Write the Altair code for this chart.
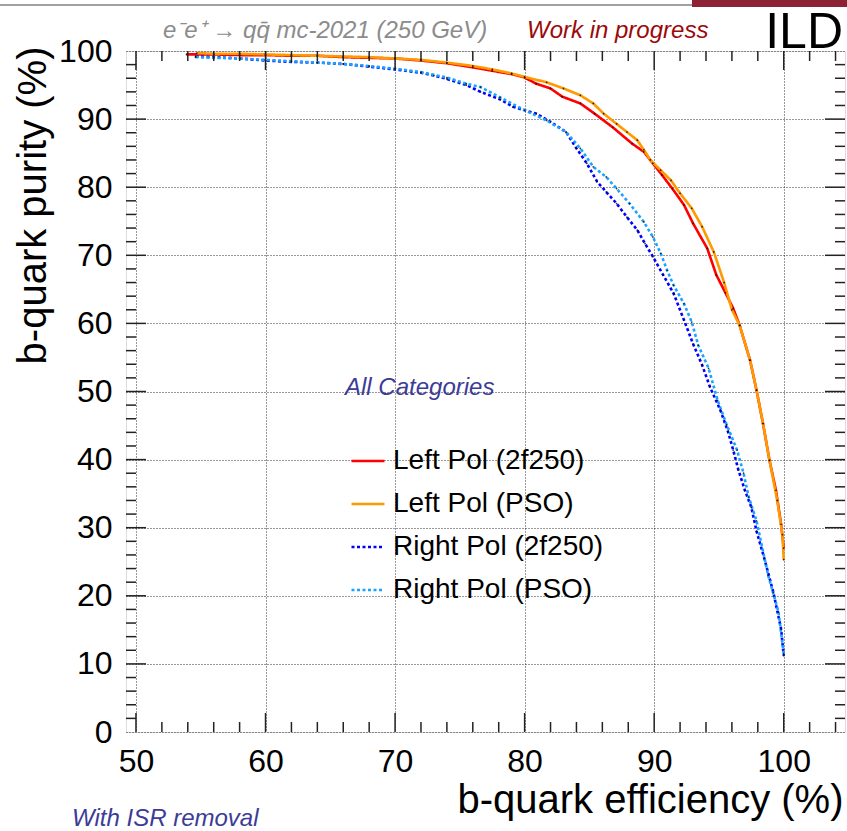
import altair as alt
import pandas as pd

# ---------------- data ----------------
series_names = ["Left Pol (2f250)", "Left Pol (PSO)", "Right Pol (2f250)", "Right Pol (PSO)"]
series_colors = ["#ff0000", "#ff9900", "#0000ff", "#1aa3ff"]
series_dashes = [[1, 0], [1, 0], [3, 2.5], [3, 2.5]]

left_2f_x = [53.9, 56, 58, 60, 62, 64, 66, 68, 70, 72, 74, 76, 77.5, 79, 80, 80.9, 82.0, 82.9, 84.3,
             85.4, 86.8, 88.3, 89.2, 89.9, 90.6, 91.4, 92.3, 93.0, 94.1, 94.8, 95.5, 96.1, 96.6, 97.4,
             97.9, 98.4, 98.9, 99.4, 99.8, 100.0]
left_2f_y = [99.5, 99.5, 99.4, 99.4, 99.3, 99.3, 99.1, 99.0, 98.9, 98.6, 98.2, 97.6, 97.1, 96.6, 96.1,
             95.2, 94.5, 93.3, 92.3, 90.8, 88.8, 86.4, 85.2, 83.5, 81.8, 79.8, 77.4, 74.7, 71.0, 67.1,
             64.5, 62.2, 59.7, 54.6, 50.2, 45.3, 39.9, 35.5, 30.5, 27.0]

left_pso_x = [54.7, 56, 58, 60, 62, 64, 66, 68, 70, 72, 74, 76, 77.5, 79, 80, 81.7, 83.0, 84.3, 85.3,
              86.1, 87.1, 87.9, 88.7, 89.2, 89.7, 90.5, 91.3, 92.0, 92.9, 93.7, 94.6, 95.4, 96.0,
              96.6, 97.4, 97.9, 98.4, 98.9, 99.5, 99.9, 100.0]
left_pso_y = [99.7, 99.6, 99.6, 99.5, 99.4, 99.3, 99.2, 99.1, 98.9, 98.7, 98.3, 97.8, 97.3, 96.7, 96.2,
              95.4, 94.5, 93.5, 92.3, 90.8, 89.3, 88.1, 86.9, 85.5, 84.0, 82.5, 81.0, 79.1, 76.9, 74.2,
              70.5, 66.0, 62.0, 59.7, 54.6, 50.2, 45.3, 39.9, 34.0, 29.0, 25.3]

right_2f_x = [54.6, 56, 58, 60, 62, 64, 66, 68, 70, 72, 73, 74, 75.5, 76.6, 78.1, 79.1, 80.9, 82.0,
              83.2, 84.0, 84.8, 85.6, 86.3, 87.1, 87.9, 88.7, 89.3, 89.9, 90.7, 91.5, 92.3, 93.0,
              93.7, 94.3, 95.1, 95.7, 96.1, 96.5, 97.0, 97.5, 97.9, 98.5, 99.2, 99.8, 100.0]
right_2f_y = [99.2, 99.1, 98.9, 98.6, 98.4, 98.3, 98.1, 97.7, 97.3, 96.8, 96.4, 95.9, 95.0, 94.0, 92.9,
              91.8, 90.8, 89.6, 88.1, 85.7, 83.5, 80.8, 79.3, 77.6, 75.6, 73.7, 71.7, 69.8, 67.1, 64.4,
              60.5, 57.0, 53.9, 50.7, 47.3, 44.1, 41.4, 38.5, 35.5, 33.0, 29.5, 25.5, 20.5, 15.1, 11.2]

right_pso_x = [54.6, 56, 58, 60, 62, 64, 66, 68, 70, 72, 74, 75.5, 76.6, 78.1, 80.0, 81.7, 83.2, 84.3,
               85.3, 86.3, 87.1, 88.1, 89.2, 89.9, 90.5, 91.0, 91.5, 92.3, 92.9, 93.4, 94.2, 94.9,
               95.6, 96.4, 96.9, 97.3, 97.9, 98.8, 99.6, 100.0]
right_pso_y = [99.1, 99.0, 98.9, 98.7, 98.5, 98.3, 98.1, 97.8, 97.4, 96.9, 96.1, 95.2, 94.7, 93.2, 91.3,
               89.8, 88.1, 85.7, 83.0, 81.5, 79.8, 77.6, 74.9, 72.7, 70.3, 67.8, 65.6, 62.9, 60.2, 56.8,
               53.4, 48.7, 45.1, 41.4, 38.0, 34.5, 31.0, 23.0, 17.6, 11.5]

x_major = [50, 60, 70, 80, 90, 100]
x_minor = [52, 54, 56, 58, 62, 64, 66, 68, 72, 74, 76, 78, 82, 84, 86, 88, 92, 94, 96, 98, 102, 104]
y_major = [0, 10, 20, 30, 40, 50, 60, 70, 80, 90, 100]
y_minor = [v for v in range(2, 100, 2) if v % 10 != 0]

x_title = "b-quark efficiency (%)"
y_title = "b-quark purity (%)"
header_text = ["e\u207be\u207a \u2192 qq\u0304 mc-2021 (250 GeV)"]
wip_text = ["Work in progress"]
ild_text = ["ILD"]
cat_text = ["All Categories"]
isr_text = ["With ISR removal"]

FONT = "Liberation Sans"
W, H = 719, 681

rows = []
for name, xs, ys in [(series_names[0], left_2f_x, left_2f_y),
                     (series_names[1], left_pso_x, left_pso_y),
                     (series_names[2], right_2f_x, right_2f_y),
                     (series_names[3], right_pso_x, right_pso_y)]:
    for i, (a, b) in enumerate(zip(xs, ys)):
        rows.append({"series": name, "eff": a, "pur": b, "idx": i})
df = pd.DataFrame(rows)

xscale = alt.Scale(domain=[49.23, 104.73], nice=False, zero=False)
yscale = alt.Scale(domain=[0, 100], nice=False, zero=False)

leg = alt.Legend(orient="none", legendX=224, legendY=392, title=None, symbolType="stroke",
                 symbolSize=1089, symbolStrokeWidth=2.5, labelFontSize=28, labelFont=FONT,
                 labelColor="#000", labelOffset=7, rowPadding=11, padding=0, labelLimit=400)

lines = alt.Chart(df).mark_line(strokeWidth=2.6).encode(
    x=alt.X("eff:Q", scale=xscale, title=x_title,
            axis=alt.Axis(values=x_major, labelFontSize=32, labelPadding=14, labelFlush=False,
                          labelOverlap=False, domain=False, ticks=False, grid=True,
                          gridDash=[1, 2], gridColor="#000", gridOpacity=0.8,
                          titleFontSize=40, titleFont=FONT, titleFontWeight="normal",
                          titleColor="#000", titleAnchor="end", titleAlign="right",
                          titleBaseline="alphabetic", titleX=W - 2, titleY=80,
                          labelColor="#000", labelFont=FONT)),
    y=alt.Y("pur:Q", scale=yscale, title=y_title,
            axis=alt.Axis(values=y_major, labelFontSize=32, labelPadding=14, labelFlush=False,
                          labelOverlap=False, domain=False, ticks=False, grid=True,
                          gridDash=[1, 2], gridColor="#000", gridOpacity=0.8,
                          titleFontSize=40, titleFont=FONT, titleFontWeight="normal",
                          titleColor="#000", titleAngle=-90, titleAlign="right",
                          titleBaseline="alphabetic", titleX=-81, titleY=-5,
                          labelColor="#000", labelFont=FONT)),
    color=alt.Color("series:N", scale=alt.Scale(domain=series_names, range=series_colors), legend=leg),
    strokeDash=alt.StrokeDash("series:N", scale=alt.Scale(domain=series_names, range=series_dashes),
                              legend=leg),
    order="idx:Q",
)

pts = alt.Chart(df).mark_circle(size=3, color="#000", opacity=0.8).encode(x="eff:Q", y="pur:Q")

TICK = "#222"
xmaj_df = pd.DataFrame({"eff": x_major})
xmin_df = pd.DataFrame({"eff": x_minor})
ymaj_df = pd.DataFrame({"pur": [v for v in y_major if 0 < v < 100]})
ymin_df = pd.DataFrame({"pur": y_minor})

def vrule(d, y0, y1):
    return alt.Chart(d).mark_rule(color=TICK, strokeWidth=1.5).encode(
        x="eff:Q", y=alt.value(y0), y2=alt.value(y1))

def hrule(d, x0, x1):
    return alt.Chart(d).mark_rule(color=TICK, strokeWidth=1.5).encode(
        y="pur:Q", x=alt.value(x0), x2=alt.value(x1))

ticks = [
    vrule(xmaj_df, H, H - 19), vrule(xmaj_df, 0, 19),
    vrule(xmin_df, H, H - 10), vrule(xmin_df, 0, 10),
    hrule(ymaj_df, 0, 20), hrule(ymaj_df, W, W - 20),
    hrule(ymin_df, 0, 10), hrule(ymin_df, W, W - 10),
]

def label(txt, x, y, size, color, align="left", style="italic"):
    return alt.Chart(pd.DataFrame({"t": txt})).mark_text(
        font=FONT, fontSize=size, color=color, align=align, baseline="alphabetic",
        fontStyle=style).encode(text="t:N", x=alt.value(x), y=alt.value(y))

one = pd.DataFrame({"k": [0]})
deco_line = alt.Chart(one).mark_rule(color="#a0a0a0", strokeWidth=2).encode(
    x=alt.value(-126), x2=alt.value(574), y=alt.value(-46))
deco_block = alt.Chart(one).mark_rect(color="#8c2233").encode(
    x=alt.value(566), x2=alt.value(721), y=alt.value(-51), y2=alt.value(-44))

texts = [
    label(header_text, 37, -13, 24, "#8c8c8c"),
    label(wip_text, 401, -13, 24, "#9b0a0a"),
    label(ild_text, 717, -3, 50, "#000", align="right", style="normal"),
    label(cat_text, 219, 344, 24, "#3c3c96"),
    label(isr_text, -54, 775, 24, "#3c3c96"),
]

chart = alt.layer(lines, pts, *ticks, *texts, deco_line, deco_block).properties(
    width=W, height=H,
    autosize=alt.AutoSizeParams(type="none"),
    padding={"left": 126, "top": 51, "right": 2, "bottom": 99},
).configure_view(stroke="#222", strokeWidth=1.5).configure(font=FONT)

chart.save("out.html", embed_options={"renderer": "svg", "actions": False})
